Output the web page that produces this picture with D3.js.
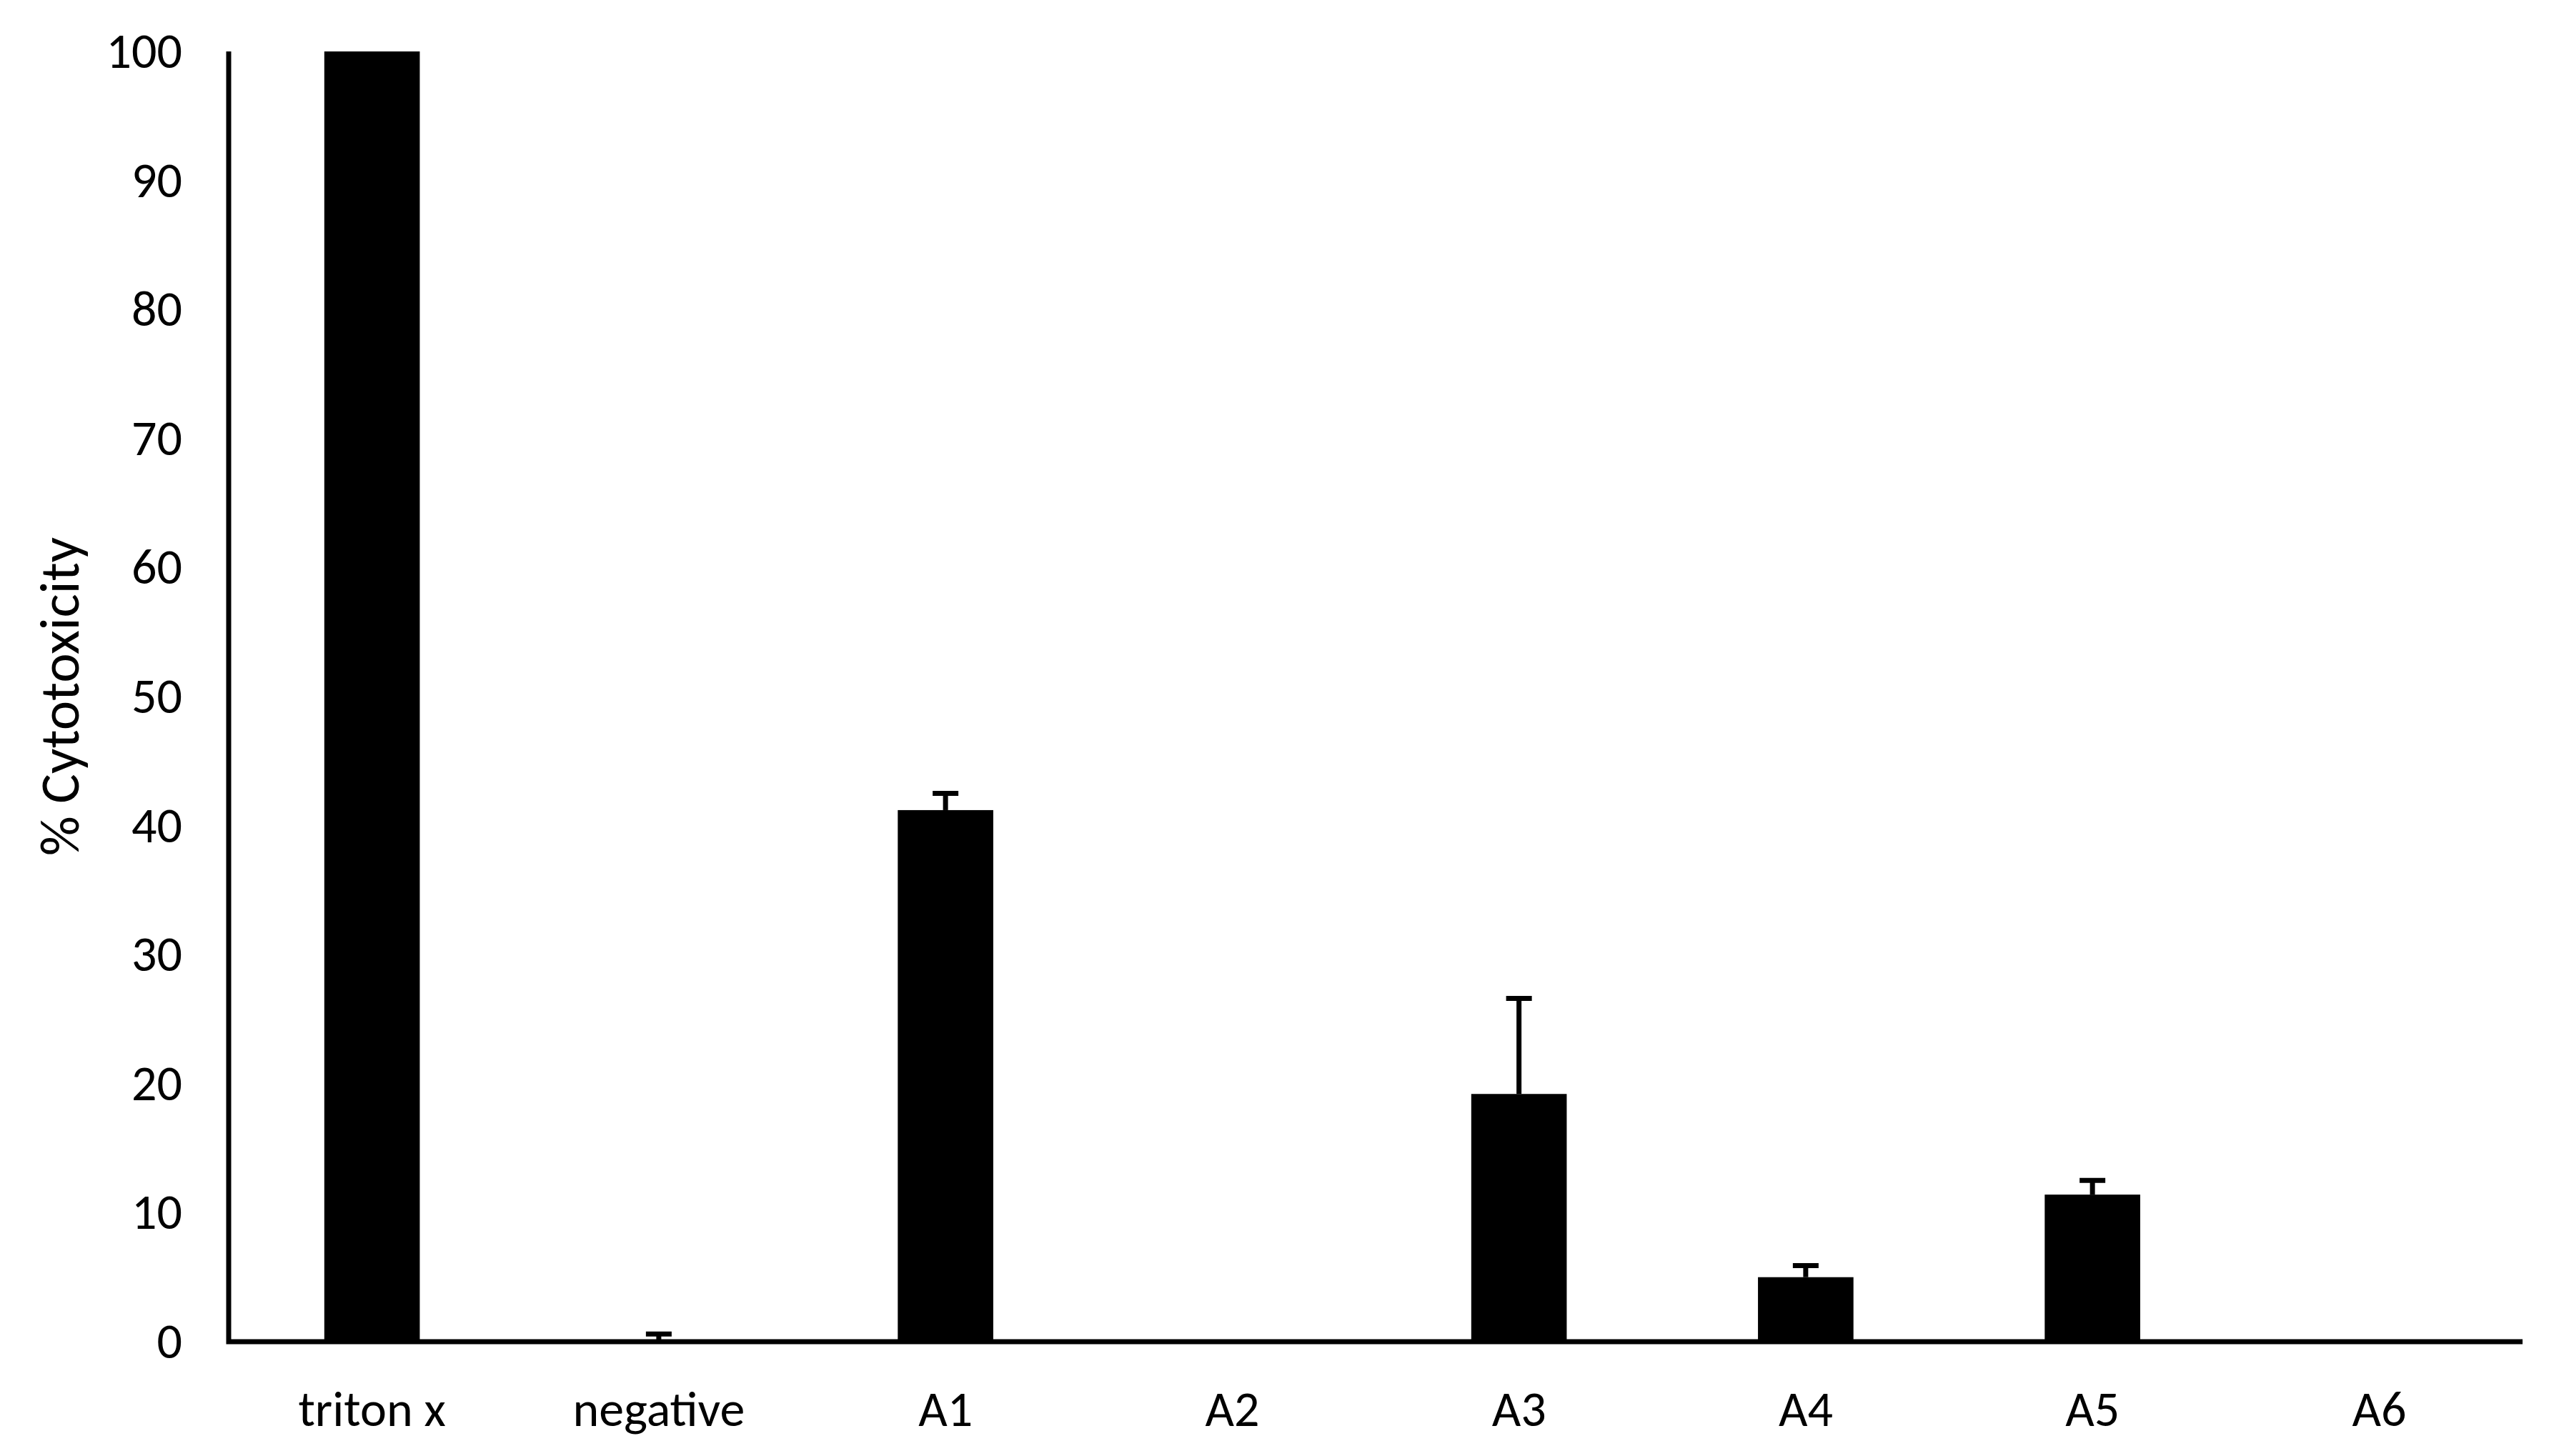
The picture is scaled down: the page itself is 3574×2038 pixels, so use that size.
<!DOCTYPE html>
<html>
<head>
<meta charset="utf-8">
<script src="https://cdn.jsdelivr.net/npm/d3@7"></script>
<style>
  html, body { margin: 0; padding: 0; background: #fff; }
  svg { display: block; }
  text { font-family: Carlito, Calibri, Lato, "Open Sans", sans-serif; fill: #000; }
</style>
</head>
<body>
<script>
const categories = ["triton x", "negative", "A1", "A2", "A3", "A4", "A5", "A6"];
const values = [100, 0.1, 41.2, 0, 19.2, 5.0, 11.4, 0];
const errors = [0, 0.5, 1.3, 0, 7.4, 0.9, 1.1, 0];
const yTicks = [0, 10, 20, 30, 40, 50, 60, 70, 80, 90, 100];
const yTitle = "% Cytotoxicity";

(function () {
const W = 3574, H = 2038;
const mLeft = 320, mRight = 3530, mTop = 72, mBottom = 1878;
const fontSize = 70;

const svg = d3.select("body").append("svg").attr("width", W).attr("height", H);

const x = d3.scaleBand().domain(categories).range([mLeft, mRight])
  .paddingInner(0.667).paddingOuter(0.3335);
const y = d3.scaleLinear().domain([0, 100]).range([mBottom, mTop]);

// bars
svg.append("g").selectAll("rect").data(categories).join("rect")
  .attr("x", d => x(d))
  .attr("width", x.bandwidth())
  .attr("y", (d, i) => y(values[i]))
  .attr("height", (d, i) => y(0) - y(values[i]))
  .attr("fill", "#000");

// error bars
const eb = svg.append("g").attr("stroke", "#000").attr("stroke-width", 7);
categories.forEach((c, i) => {
  if (errors[i] <= 0) return;
  const cx = x(c) + x.bandwidth() / 2;
  eb.append("line").attr("x1", cx).attr("x2", cx)
    .attr("y1", y(values[i])).attr("y2", y(values[i] + errors[i]));
  eb.append("line").attr("x1", cx - 18).attr("x2", cx + 18)
    .attr("y1", y(values[i] + errors[i])).attr("y2", y(values[i] + errors[i]));
});

// y axis
const yAxis = d3.axisLeft(y).tickValues(yTicks).tickSize(0).tickPadding(65).tickFormat(d3.format("d"));
const gy = svg.append("g").attr("transform", `translate(${mLeft},0)`).call(yAxis);
gy.select(".domain").remove();
gy.selectAll("text").attr("font-size", fontSize).attr("font-family", null);

// x axis
const xAxis = d3.axisBottom(x).tickSize(0).tickPadding(68);
const gx = svg.append("g").attr("transform", `translate(0,${mBottom})`).call(xAxis);
gx.select(".domain").remove();
gx.selectAll("text").attr("font-size", fontSize).attr("font-family", null);

// axis lines
svg.append("path")
  .attr("d", `M${mLeft},${mTop} V${mBottom} H${mRight}`)
  .attr("fill", "none").attr("stroke", "#000").attr("stroke-width", 7)
  .attr("stroke-linejoin", "miter");

// y title
svg.append("text")
  .attr("transform", `translate(110,975) rotate(-90)`)
  .attr("text-anchor", "middle")
  .attr("font-size", 78)
  .text(yTitle);
})();
</script>
</body>
</html>
